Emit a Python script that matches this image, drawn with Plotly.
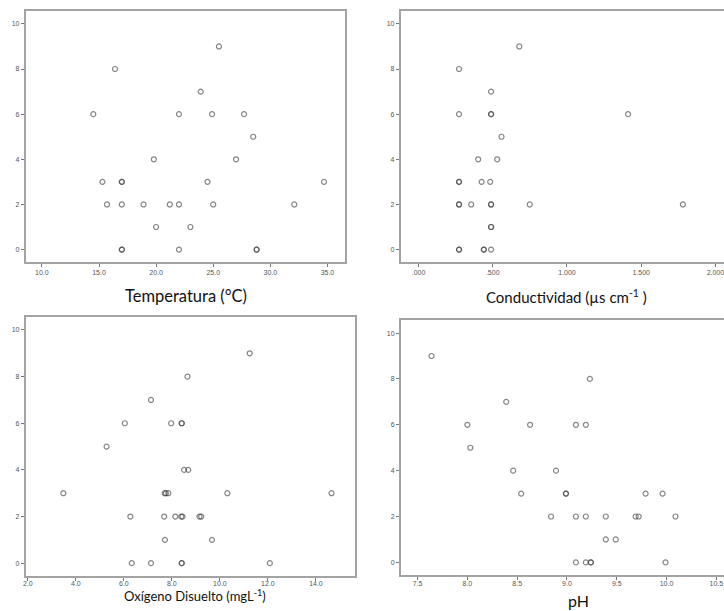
import plotly.graph_objects as go

# ---- data ----
temp = [25.5, 16.4, 23.9, 14.5, 22.0, 24.9, 27.7, 28.5, 19.8, 27.0, 15.3, 17.0, 17.0, 24.5, 34.7,
        15.7, 17.0, 18.9, 21.2, 22.0, 25.0, 32.1, 20.0, 23.0, 17.0, 17.0, 22.0, 28.8, 28.8]
y_temp = [9, 8, 7, 6, 6, 6, 6, 5, 4, 4, 3, 3, 3, 3, 3, 2, 2, 2, 2, 2, 2, 2, 1, 1, 0, 0, 0, 0, 0]

cond = [0.679, 0.273, 0.489, 0.273, 0.489, 0.489, 1.412, 0.559, 0.402, 0.530, 0.273, 0.273, 0.425, 0.483,
        0.273, 0.273, 0.355, 0.489, 0.489, 0.749, 1.781, 0.489, 0.489, 0.273, 0.273, 0.440, 0.440, 0.489]
y_cond = [9, 8, 7, 6, 6, 6, 6, 5, 4, 4, 3, 3, 3, 3, 2, 2, 2, 2, 2, 2, 2, 1, 1, 0, 0, 0, 0, 0]

oxy = [11.24, 8.65, 7.13, 6.04, 7.97, 8.41, 8.41, 5.28, 8.51, 8.68, 3.48, 7.70, 7.75, 7.85, 10.31, 14.65,
       6.27, 7.68, 8.14, 8.39, 8.44, 9.15, 9.22, 7.71, 9.67, 6.33, 7.13, 8.41, 8.41, 12.08]
y_oxy = [9, 8, 7, 6, 6, 6, 6, 5, 4, 4, 3, 3, 3, 3, 3, 3, 2, 2, 2, 2, 2, 2, 2, 1, 1, 0, 0, 0, 0, 0]

ph = [7.64, 9.23, 8.39, 8.00, 8.63, 9.09, 9.19, 8.03, 8.46, 8.89, 8.54, 8.99, 8.99, 9.79, 9.96,
      8.84, 9.09, 9.19, 9.39, 9.69, 9.72, 10.09, 9.39, 9.49, 9.09, 9.19, 9.24, 9.24, 9.99]
y_ph = [9, 8, 7, 6, 6, 6, 6, 5, 4, 4, 3, 3, 3, 3, 3, 2, 2, 2, 2, 2, 2, 2, 1, 1, 0, 0, 0, 0, 0]

cond_ticks = [0, 0.5, 1.0, 1.5, 2.0]
cond_ticklabels = [".000", ".500", "1.000", "1.500", "2.000"]
y_ticks = [0, 2, 4, 6, 8, 10]

W, H = 724, 611
def dx(a, b):
    return [a / W, b / W]
def dy(top, bot):
    return [1 - bot / H, 1 - top / H]

FRAME = "#a3a3a3"
TICKFONT = dict(family="Liberation Sans, Arial, sans-serif", size=7, color="#555555")
marker = dict(symbol="circle-open", size=5, color="rgba(60,60,60,0.62)", line=dict(width=1.2))

fig = go.Figure()
series = [(temp, y_temp, "x", "y"), (cond, y_cond, "x2", "y2"),
          (oxy, y_oxy, "x3", "y3"), (ph, y_ph, "x4", "y4")]
for xs, ys, xa, ya in series:
    fig.add_trace(go.Scatter(x=xs, y=ys, mode="markers", marker=marker,
                             xaxis=xa, yaxis=ya, showlegend=False, hoverinfo="x+y"))

def xaxis(domain, rng, anchor, standoff=0, **kw):
    d = dict(domain=domain, range=rng, anchor=anchor, showgrid=False, zeroline=False,
             showline=True, linecolor=FRAME, linewidth=2, mirror=True,
             ticks="outside", ticklen=3, tickcolor="#777777", tickwidth=1,
             tickfont=TICKFONT, ticklabeloverflow="allow", ticklabelstandoff=standoff)
    d.update(kw)
    return d

def yaxis(domain, anchor, mirror=True):
    return dict(domain=domain, range=[-0.55, 10.57], anchor=anchor, showgrid=False, zeroline=False,
                showline=True, linecolor=FRAME, linewidth=2, mirror=mirror,
                ticks="outside", ticklen=3, tickcolor="#777777", tickwidth=1,
                tickvals=y_ticks, tickfont=TICKFONT)

fig.update_layout(
    width=W, height=H, margin=dict(l=0, r=0, t=0, b=0),
    paper_bgcolor="white", plot_bgcolor="white",
    xaxis=xaxis(dx(23, 343), [8.6, 36.5], "y", tickvals=[10, 15, 20, 25, 30, 35], tickformat=".1f"),
    yaxis=yaxis(dy(11, 262), "x"),
    xaxis2=xaxis(dx(399.5, 724), [-0.119, 2.058], "y2", tickvals=cond_ticks, ticktext=cond_ticklabels),
    yaxis2=yaxis(dy(11, 262), "x2", mirror=False),
    xaxis3=xaxis(dx(23, 353.3), [1.92, 15.62], "y3", standoff=-3,
                 tickvals=[2, 4, 6, 8, 10, 12, 14], tickformat=".1f"),
    yaxis3=yaxis(dy(316.7, 576), "x3"),
    xaxis4=xaxis(dx(399.7, 724), [7.334, 10.577], "y4", standoff=-2,
                 tickvals=[7.5, 8.0, 8.5, 9.0, 9.5, 10.0, 10.5], tickformat=".1f"),
    yaxis4=yaxis(dy(320, 575), "x4", mirror=False),
)

TF = "Lato, Open Sans, sans-serif"
titles = [("Temperatura (°C)", 184, 296, 16.5),
          ("Conductividad (µs cm<sup>-1</sup> )", 566, 296, 15),
          ("Oxígeno Disuelto (mgL<sup>-1</sup>)", 193, 595, 13),
          ("pH", 578, 600, 16)]
for text, px, py, fs in titles:
    fig.add_annotation(text=text, x=px / W, y=1 - py / H, xref="paper", yref="paper",
                       showarrow=False, xanchor="center", yanchor="middle",
                       font=dict(family=TF, size=fs, color="#111111"))

fig.write_html("out.html", config={"displayModeBar": False},
               post_script="document.body.style.margin='0';document.body.style.overflow='hidden';")
